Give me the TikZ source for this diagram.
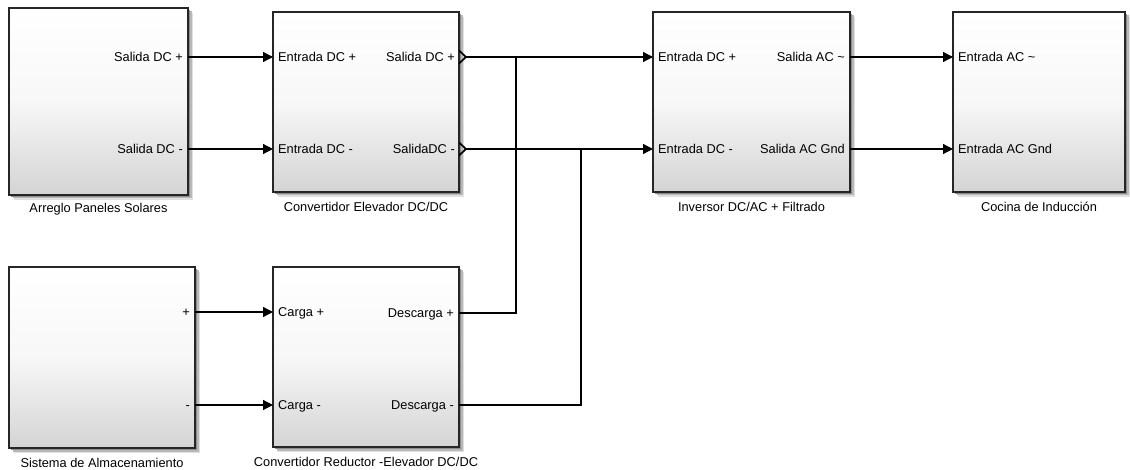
\documentclass[tikz,border=0pt]{standalone}
\usepackage{fontspec}
\setmainfont{Liberation Sans}
\usetikzlibrary{arrows.meta,calc,backgrounds}
\begin{document}
\begin{tikzpicture}[x=1pt,y=-1pt,
  font=\fontsize{12.8}{14}\selectfont,
  blk/.style={draw=black!85, line width=1.3pt, top color=white, bottom color=black!17,
    middle color=black!3, inner sep=0pt, outer sep=0pt, anchor=north west},
  wire/.style={draw=black, line width=1.2pt},
  arr/.style={wire, -{Triangle[length=10pt,width=10pt]}},
  chev/.style={draw=black, line width=1.7pt, line join=miter},
  inlbl/.style={anchor=base west, inner sep=0pt},
  outlbl/.style={anchor=base east, inner sep=0pt},
  blbl/.style={anchor=base, inner sep=0pt}]
\useasboundingbox (0,0) rectangle (1130,470);

% blocks
\node[blk, minimum width=179pt, minimum height=187pt] (arrg) at (9,8) {};
\node[blk, minimum width=186pt, minimum height=180pt] (ce) at (273,12) {};
\node[blk, minimum width=197pt, minimum height=180pt] (inv) at (653,12) {};
\node[blk, minimum width=172pt, minimum height=180pt] (coc) at (953,12) {};
\node[blk, minimum width=186pt, minimum height=181pt] (sis) at (9,267) {};
\node[blk, minimum width=186pt, minimum height=180pt] (cr) at (273,267) {};

% shadows
\begin{scope}[on background layer]
\foreach \n in {arrg,ce,inv,coc,sis,cr}{
  \fill[black!12] ($(\n.north west)+(5,5)$) rectangle ($(\n.south east)+(5,5)$);
  \fill[black!28] ($(\n.north west)+(3.5,3.5)$) rectangle ($(\n.south east)+(3.5,3.5)$);
  \fill[black!45] ($(\n.north west)+(2,2)$) rectangle ($(\n.south east)+(2,2)$);
}
\end{scope}

% block labels
\node[blbl] (larrg) at ($(arrg.south)+(0,18)$) {Arreglo Paneles Solares};
\node[blbl] (lce) at ($(ce.south)+(0,20)$) {Convertidor Elevador DC/DC};
\node[blbl] (linv) at ($(inv.south)+(0,20)$) {Inversor DC/AC + Filtrado};
\node[blbl] (lcoc) at ($(coc.south)+(0,20)$) {Cocina de Inducción};
\node[blbl] (lsis) at ($(sis.south)+(0,19)$) {Sistema de Almacenamiento};
\node[blbl] (lcr) at ($(cr.south)+(0,19)$) {Convertidor Reductor -Elevador DC/DC};

% port coordinates
\coordinate (a1) at (188,57);   \coordinate (a2) at (188,149);
\coordinate (ci1) at (273,57);  \coordinate (ci2) at (273,149);
\coordinate (co1) at (459,57);  \coordinate (co2) at (459,149);
\coordinate (ct1) at (466,57);  \coordinate (ct2) at (466,149);
\coordinate (ii1) at (653,57);  \coordinate (ii2) at (653,149);
\coordinate (io1) at (850,57);  \coordinate (io2) at (850,149);
\coordinate (ki1) at (953,57);  \coordinate (ki2) at (953,149);
\coordinate (s1) at (195,312);  \coordinate (s2) at (195,405);
\coordinate (ri1) at (273,312); \coordinate (ri2) at (273,405);
\coordinate (ro1) at (459,313); \coordinate (ro2) at (459,405);
\coordinate (j1) at (516,57);   \coordinate (j2) at (581,149);

% port labels
\node[outlbl] (pa1) at ($(a1)+(-5,4.6)$) {Salida DC +};
\node[outlbl] (pa2) at ($(a2)+(-5,4.6)$) {Salida DC -};
\node[inlbl] (pci1) at ($(ci1)+(5,4.6)$) {Entrada DC +};
\node[inlbl] (pci2) at ($(ci2)+(5,4.6)$) {Entrada DC -};
\node[outlbl] (pco1) at ($(co1)+(-4,4.6)$) {Salida DC +};
\node[outlbl] (pco2) at ($(co2)+(-4,4.6)$) {SalidaDC -};
\node[inlbl] (pii1) at ($(ii1)+(5,4.6)$) {Entrada DC +};
\node[inlbl] (pii2) at ($(ii2)+(5,4.6)$) {Entrada DC -};
\node[outlbl] (pio1) at ($(io1)+(-5,4.6)$) {Salida AC \char`\~};
\node[outlbl] (pio2) at ($(io2)+(-5,4.6)$) {Salida AC Gnd};
\node[inlbl] (pki1) at ($(ki1)+(5,4.6)$) {Entrada AC \char`\~};
\node[inlbl] (pki2) at ($(ki2)+(5,4.6)$) {Entrada AC Gnd};
\node[outlbl] (ps1) at ($(s1)+(-5,4.6)$) {+};
\node[outlbl] (ps2) at ($(s2)+(-5,4.6)$) {-};
\node[inlbl] (pri1) at ($(ri1)+(5,4.6)$) {Carga +};
\node[inlbl] (pri2) at ($(ri2)+(5,4.6)$) {Carga -};
\node[outlbl] (pro1) at ($(ro1)+(-5,4.6)$) {Descarga +};
\node[outlbl] (pro2) at ($(ro2)+(-5,4.6)$) {Descarga -};

% output chevrons
\draw[chev] ($(co1)+(0,-6.5)$) -- (ct1) -- ($(co1)+(0,6.5)$);
\draw[chev] ($(co2)+(0,-6.5)$) -- (ct2) -- ($(co2)+(0,6.5)$);

% connectors
\draw[arr] (a1) -- (ci1);
\draw[arr] (a2) -- (ci2);
\draw[arr] (ct1) -- (ii1);
\draw[arr] (ct2) -- (ii2);
\draw[arr] (io1) -- (ki1);
\draw[arr] (io2) -- (ki2);
\draw[arr] (s1) -- (ri1);
\draw[arr] (s2) -- (ri2);
\draw[wire] (ro1) -| (j1);
\draw[wire] (ro2) -| (j2);
\end{tikzpicture}
\end{document}
